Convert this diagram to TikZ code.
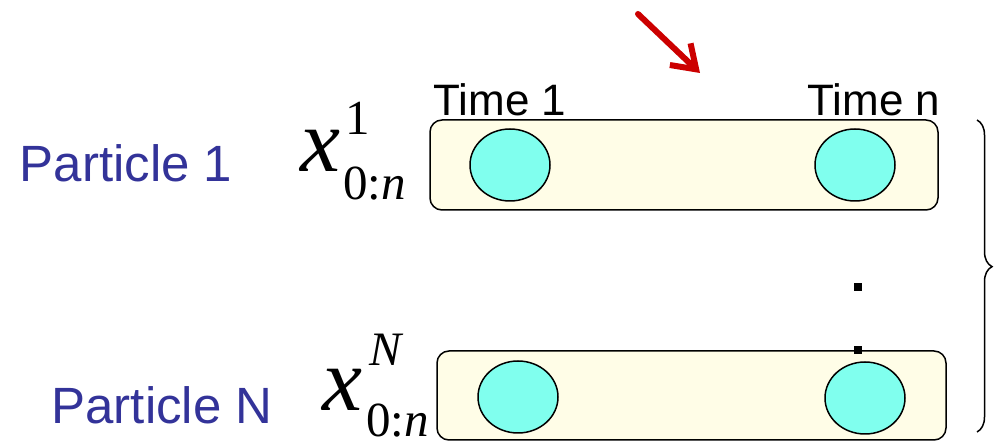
\documentclass[tikz,border=0pt]{standalone}
\usepackage{fontspec}
\setmainfont{Liberation Sans}
\newfontfamily\tnr{Liberation Serif}
\usetikzlibrary{arrows.meta,decorations.pathreplacing,shapes.geometric}
\definecolor{boxfill}{RGB}{255,253,231}
\definecolor{cellfill}{RGB}{128,255,238}
\definecolor{pblue}{RGB}{51,51,153}
\definecolor{arrred}{RGB}{204,0,0}
\tikzset{
  seqbox/.style={draw=black, line width=1.5pt, fill=boxfill, rounded corners=12pt},
  cell/.style={draw=black, line width=1.5pt, fill=cellfill, ellipse, minimum width=80pt, minimum height=72pt, inner sep=0pt},
  lbl/.style={font=\fontsize{44}{46}\selectfont, inner sep=0pt},
  plbl/.style={font=\fontsize{51}{53}\selectfont, text=pblue, inner sep=0pt},
  bigx/.style={font=\tnr\itshape\fontsize{90}{90}\selectfont, inner sep=0pt},
  scr/.style={font=\tnr\fontsize{49}{49}\selectfont, inner sep=0pt},
  dotsq/.style={fill=black, minimum size=8pt, inner sep=0pt},
}
\begin{document}
\begin{tikzpicture}[x=1pt,y=-1pt]
\useasboundingbox (0,0) rectangle (994,443);
% boxes
\node[seqbox, minimum width=508pt, minimum height=90pt] (b1) at (684,165) {};
\node[seqbox, minimum width=509pt, minimum height=89pt] (b2) at (691.5,395.5) {};
% cells
\node[cell] (c11) at (510,165) {};
\node[cell] (c1n) at (855,165) {};
\node[cell] (cN1) at (518,397) {};
\node[cell] (cNn) at (865,398) {};
% time labels
\node[lbl, anchor=base] (t1) at (500,116) {Time 1};
\node[lbl, anchor=base] (tn) at (874,116) {Time n};
% particle labels
\node[plbl, anchor=base] (p1) at (126,182) {Particle 1};
\node[plbl, anchor=base] (pN) at (162,424) {Particle N};
% math labels
\node[bigx, anchor=base west] (x1) at (300,172) {x};
\node[scr, anchor=base west] (s1) at (345,135) {1};
\node[scr, anchor=base west] (u1) at (343,200) {0:\textit{n}};
\node[bigx, anchor=base west] (xN) at (322,411) {x};
\node[scr, anchor=base west, font=\tnr\itshape\fontsize{48}{48}\selectfont] (sN) at (369,366) {N};
\node[scr, anchor=base west] (uN) at (366,437) {\raisebox{0pt}[\height][0pt]{0:\textit{n}}};
% dots
\node[dotsq] (d1) at (858,287) {};
\node[dotsq] (d2) at (858,350) {};
% brace
\coordinate (br1) at (977,120);
\coordinate (br2) at (977,432);
\draw[line width=1.5pt, decorate, decoration={brace, amplitude=15pt, aspect=0.47}] (br1) -- (br2);
% red arrow
\coordinate (a1) at (638,14);
\coordinate (a2) at (700,73);
\draw[arrred, line width=6pt, line cap=round, -{Straight Barb[length=22pt, width=30pt, line width=6pt]}] (a1) -- (a2);
\end{tikzpicture}
\end{document}
